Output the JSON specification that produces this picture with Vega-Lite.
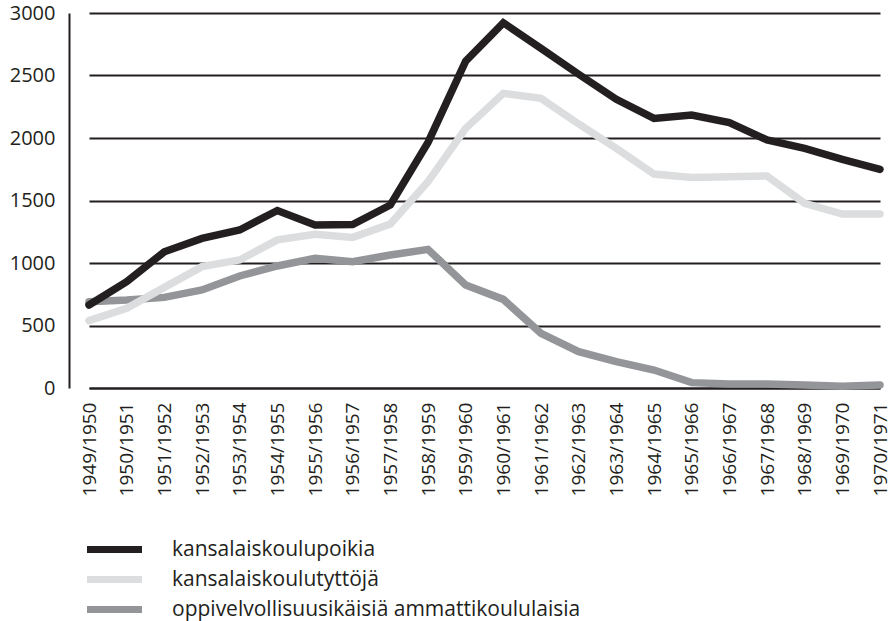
{
  "$schema": "https://vega.github.io/schema/vega-lite/v6.json",
  "width": 822,
  "height": 375,
  "padding": {"left": 9, "top": 3, "right": 0, "bottom": 0},
  "background": "white",
  "config": {
    "font": "Open Sans",
    "view": {"stroke": null}
  },
  "data": {
    "values": [
      {"year": "1949/1950", "series": "oppivelvollisuusikäisiä ammattikoululaisia", "value": 690},
      {"year": "1950/1951", "series": "oppivelvollisuusikäisiä ammattikoululaisia", "value": 704},
      {"year": "1951/1952", "series": "oppivelvollisuusikäisiä ammattikoululaisia", "value": 725},
      {"year": "1952/1953", "series": "oppivelvollisuusikäisiä ammattikoululaisia", "value": 784},
      {"year": "1953/1954", "series": "oppivelvollisuusikäisiä ammattikoululaisia", "value": 896},
      {"year": "1954/1955", "series": "oppivelvollisuusikäisiä ammattikoululaisia", "value": 976},
      {"year": "1955/1956", "series": "oppivelvollisuusikäisiä ammattikoululaisia", "value": 1037},
      {"year": "1956/1957", "series": "oppivelvollisuusikäisiä ammattikoululaisia", "value": 1011},
      {"year": "1957/1958", "series": "oppivelvollisuusikäisiä ammattikoululaisia", "value": 1064},
      {"year": "1958/1959", "series": "oppivelvollisuusikäisiä ammattikoululaisia", "value": 1109},
      {"year": "1959/1960", "series": "oppivelvollisuusikäisiä ammattikoululaisia", "value": 824},
      {"year": "1960/1961", "series": "oppivelvollisuusikäisiä ammattikoululaisia", "value": 709},
      {"year": "1961/1962", "series": "oppivelvollisuusikäisiä ammattikoululaisia", "value": 437},
      {"year": "1962/1963", "series": "oppivelvollisuusikäisiä ammattikoululaisia", "value": 291},
      {"year": "1963/1964", "series": "oppivelvollisuusikäisiä ammattikoululaisia", "value": 211},
      {"year": "1964/1965", "series": "oppivelvollisuusikäisiä ammattikoululaisia", "value": 144},
      {"year": "1965/1966", "series": "oppivelvollisuusikäisiä ammattikoululaisia", "value": 43},
      {"year": "1966/1967", "series": "oppivelvollisuusikäisiä ammattikoululaisia", "value": 32},
      {"year": "1967/1968", "series": "oppivelvollisuusikäisiä ammattikoululaisia", "value": 32},
      {"year": "1968/1969", "series": "oppivelvollisuusikäisiä ammattikoululaisia", "value": 24},
      {"year": "1969/1970", "series": "oppivelvollisuusikäisiä ammattikoululaisia", "value": 14},
      {"year": "1970/1971", "series": "oppivelvollisuusikäisiä ammattikoululaisia", "value": 24},
      {"year": "1949/1950", "series": "kansalaiskoulutyttöjä", "value": 539},
      {"year": "1950/1951", "series": "kansalaiskoulutyttöjä", "value": 637},
      {"year": "1951/1952", "series": "kansalaiskoulutyttöjä", "value": 805},
      {"year": "1952/1953", "series": "kansalaiskoulutyttöjä", "value": 971},
      {"year": "1953/1954", "series": "kansalaiskoulutyttöjä", "value": 1024},
      {"year": "1954/1955", "series": "kansalaiskoulutyttöjä", "value": 1185},
      {"year": "1955/1956", "series": "kansalaiskoulutyttöjä", "value": 1230},
      {"year": "1956/1957", "series": "kansalaiskoulutyttöjä", "value": 1205},
      {"year": "1957/1958", "series": "kansalaiskoulutyttöjä", "value": 1312},
      {"year": "1958/1959", "series": "kansalaiskoulutyttöjä", "value": 1651},
      {"year": "1959/1960", "series": "kansalaiskoulutyttöjä", "value": 2077},
      {"year": "1960/1961", "series": "kansalaiskoulutyttöjä", "value": 2357},
      {"year": "1961/1962", "series": "kansalaiskoulutyttöjä", "value": 2317},
      {"year": "1962/1963", "series": "kansalaiskoulutyttöjä", "value": 2112},
      {"year": "1963/1964", "series": "kansalaiskoulutyttöjä", "value": 1917},
      {"year": "1964/1965", "series": "kansalaiskoulutyttöjä", "value": 1712},
      {"year": "1965/1966", "series": "kansalaiskoulutyttöjä", "value": 1685},
      {"year": "1966/1967", "series": "kansalaiskoulutyttöjä", "value": 1690},
      {"year": "1967/1968", "series": "kansalaiskoulutyttöjä", "value": 1696},
      {"year": "1968/1969", "series": "kansalaiskoulutyttöjä", "value": 1477},
      {"year": "1969/1970", "series": "kansalaiskoulutyttöjä", "value": 1392},
      {"year": "1970/1971", "series": "kansalaiskoulutyttöjä", "value": 1392},
      {"year": "1949/1950", "series": "kansalaiskoulupoikia", "value": 664},
      {"year": "1950/1951", "series": "kansalaiskoulupoikia", "value": 850},
      {"year": "1951/1952", "series": "kansalaiskoulupoikia", "value": 1090},
      {"year": "1952/1953", "series": "kansalaiskoulupoikia", "value": 1197},
      {"year": "1953/1954", "series": "kansalaiskoulupoikia", "value": 1264},
      {"year": "1954/1955", "series": "kansalaiskoulupoikia", "value": 1420},
      {"year": "1955/1956", "series": "kansalaiskoulupoikia", "value": 1304},
      {"year": "1956/1957", "series": "kansalaiskoulupoikia", "value": 1308},
      {"year": "1957/1958", "series": "kansalaiskoulupoikia", "value": 1464},
      {"year": "1958/1959", "series": "kansalaiskoulupoikia", "value": 1965},
      {"year": "1959/1960", "series": "kansalaiskoulupoikia", "value": 2615},
      {"year": "1960/1961", "series": "kansalaiskoulupoikia", "value": 2922},
      {"year": "1961/1962", "series": "kansalaiskoulupoikia", "value": 2717},
      {"year": "1962/1963", "series": "kansalaiskoulupoikia", "value": 2510},
      {"year": "1963/1964", "series": "kansalaiskoulupoikia", "value": 2310},
      {"year": "1964/1965", "series": "kansalaiskoulupoikia", "value": 2157},
      {"year": "1965/1966", "series": "kansalaiskoulupoikia", "value": 2184},
      {"year": "1966/1967", "series": "kansalaiskoulupoikia", "value": 2123},
      {"year": "1967/1968", "series": "kansalaiskoulupoikia", "value": 1984},
      {"year": "1968/1969", "series": "kansalaiskoulupoikia", "value": 1917},
      {"year": "1969/1970", "series": "kansalaiskoulupoikia", "value": 1829},
      {"year": "1970/1971", "series": "kansalaiskoulupoikia", "value": 1749}
    ]
  },
  "mark": {"type": "line", "strokeWidth": 7.5, "strokeCap": "round", "strokeJoin": "miter"},
  "encoding": {
    "x": {
      "field": "year",
      "type": "ordinal",
      "sort": null,
      "scale": {"type": "point", "range": [20, 811], "padding": 0},
      "axis": {
        "title": null,
        "labelAngle": 270,
        "labelFontSize": 19,
        "labelColor": "#231f20",
        "labelPadding": 14,
        "ticks": false,
        "domain": true,
        "domainColor": "#231f20",
        "domainWidth": 2,
        "grid": false
      }
    },
    "y": {
      "field": "value",
      "type": "quantitative",
      "scale": {"domain": [0, 3000], "nice": false},
      "axis": {
        "title": null,
        "format": "d",
        "values": [0, 500, 1000, 1500, 2000, 2500, 3000],
        "labelFontSize": 20,
        "labelColor": "#231f20",
        "labelPadding": 14,
        "ticks": false,
        "domain": true,
        "domainColor": "#231f20",
        "domainWidth": 2,
        "grid": true,
        "gridColor": "#231f20",
        "gridWidth": 2,
        "gridOpacity": 1
      }
    },
    "color": {
      "field": "series",
      "type": "nominal",
      "scale": {
        "domain": ["kansalaiskoulupoikia", "kansalaiskoulutyttöjä", "oppivelvollisuusikäisiä ammattikoululaisia"],
        "range": ["#231f20", "#dcddde", "#939598"]
      },
      "legend": {
        "title": null,
        "orient": "none",
        "legendX": 35,
        "legendY": 526,
        "symbolType": "M-5,0H5",
        "symbolSize": 121,
        "symbolStrokeWidth": 7,
        "labelFontSize": 21,
        "labelColor": "#231f20",
        "labelOffset": 47,
        "rowPadding": 1,
        "labelLimit": 600
      }
    }
  }
}
